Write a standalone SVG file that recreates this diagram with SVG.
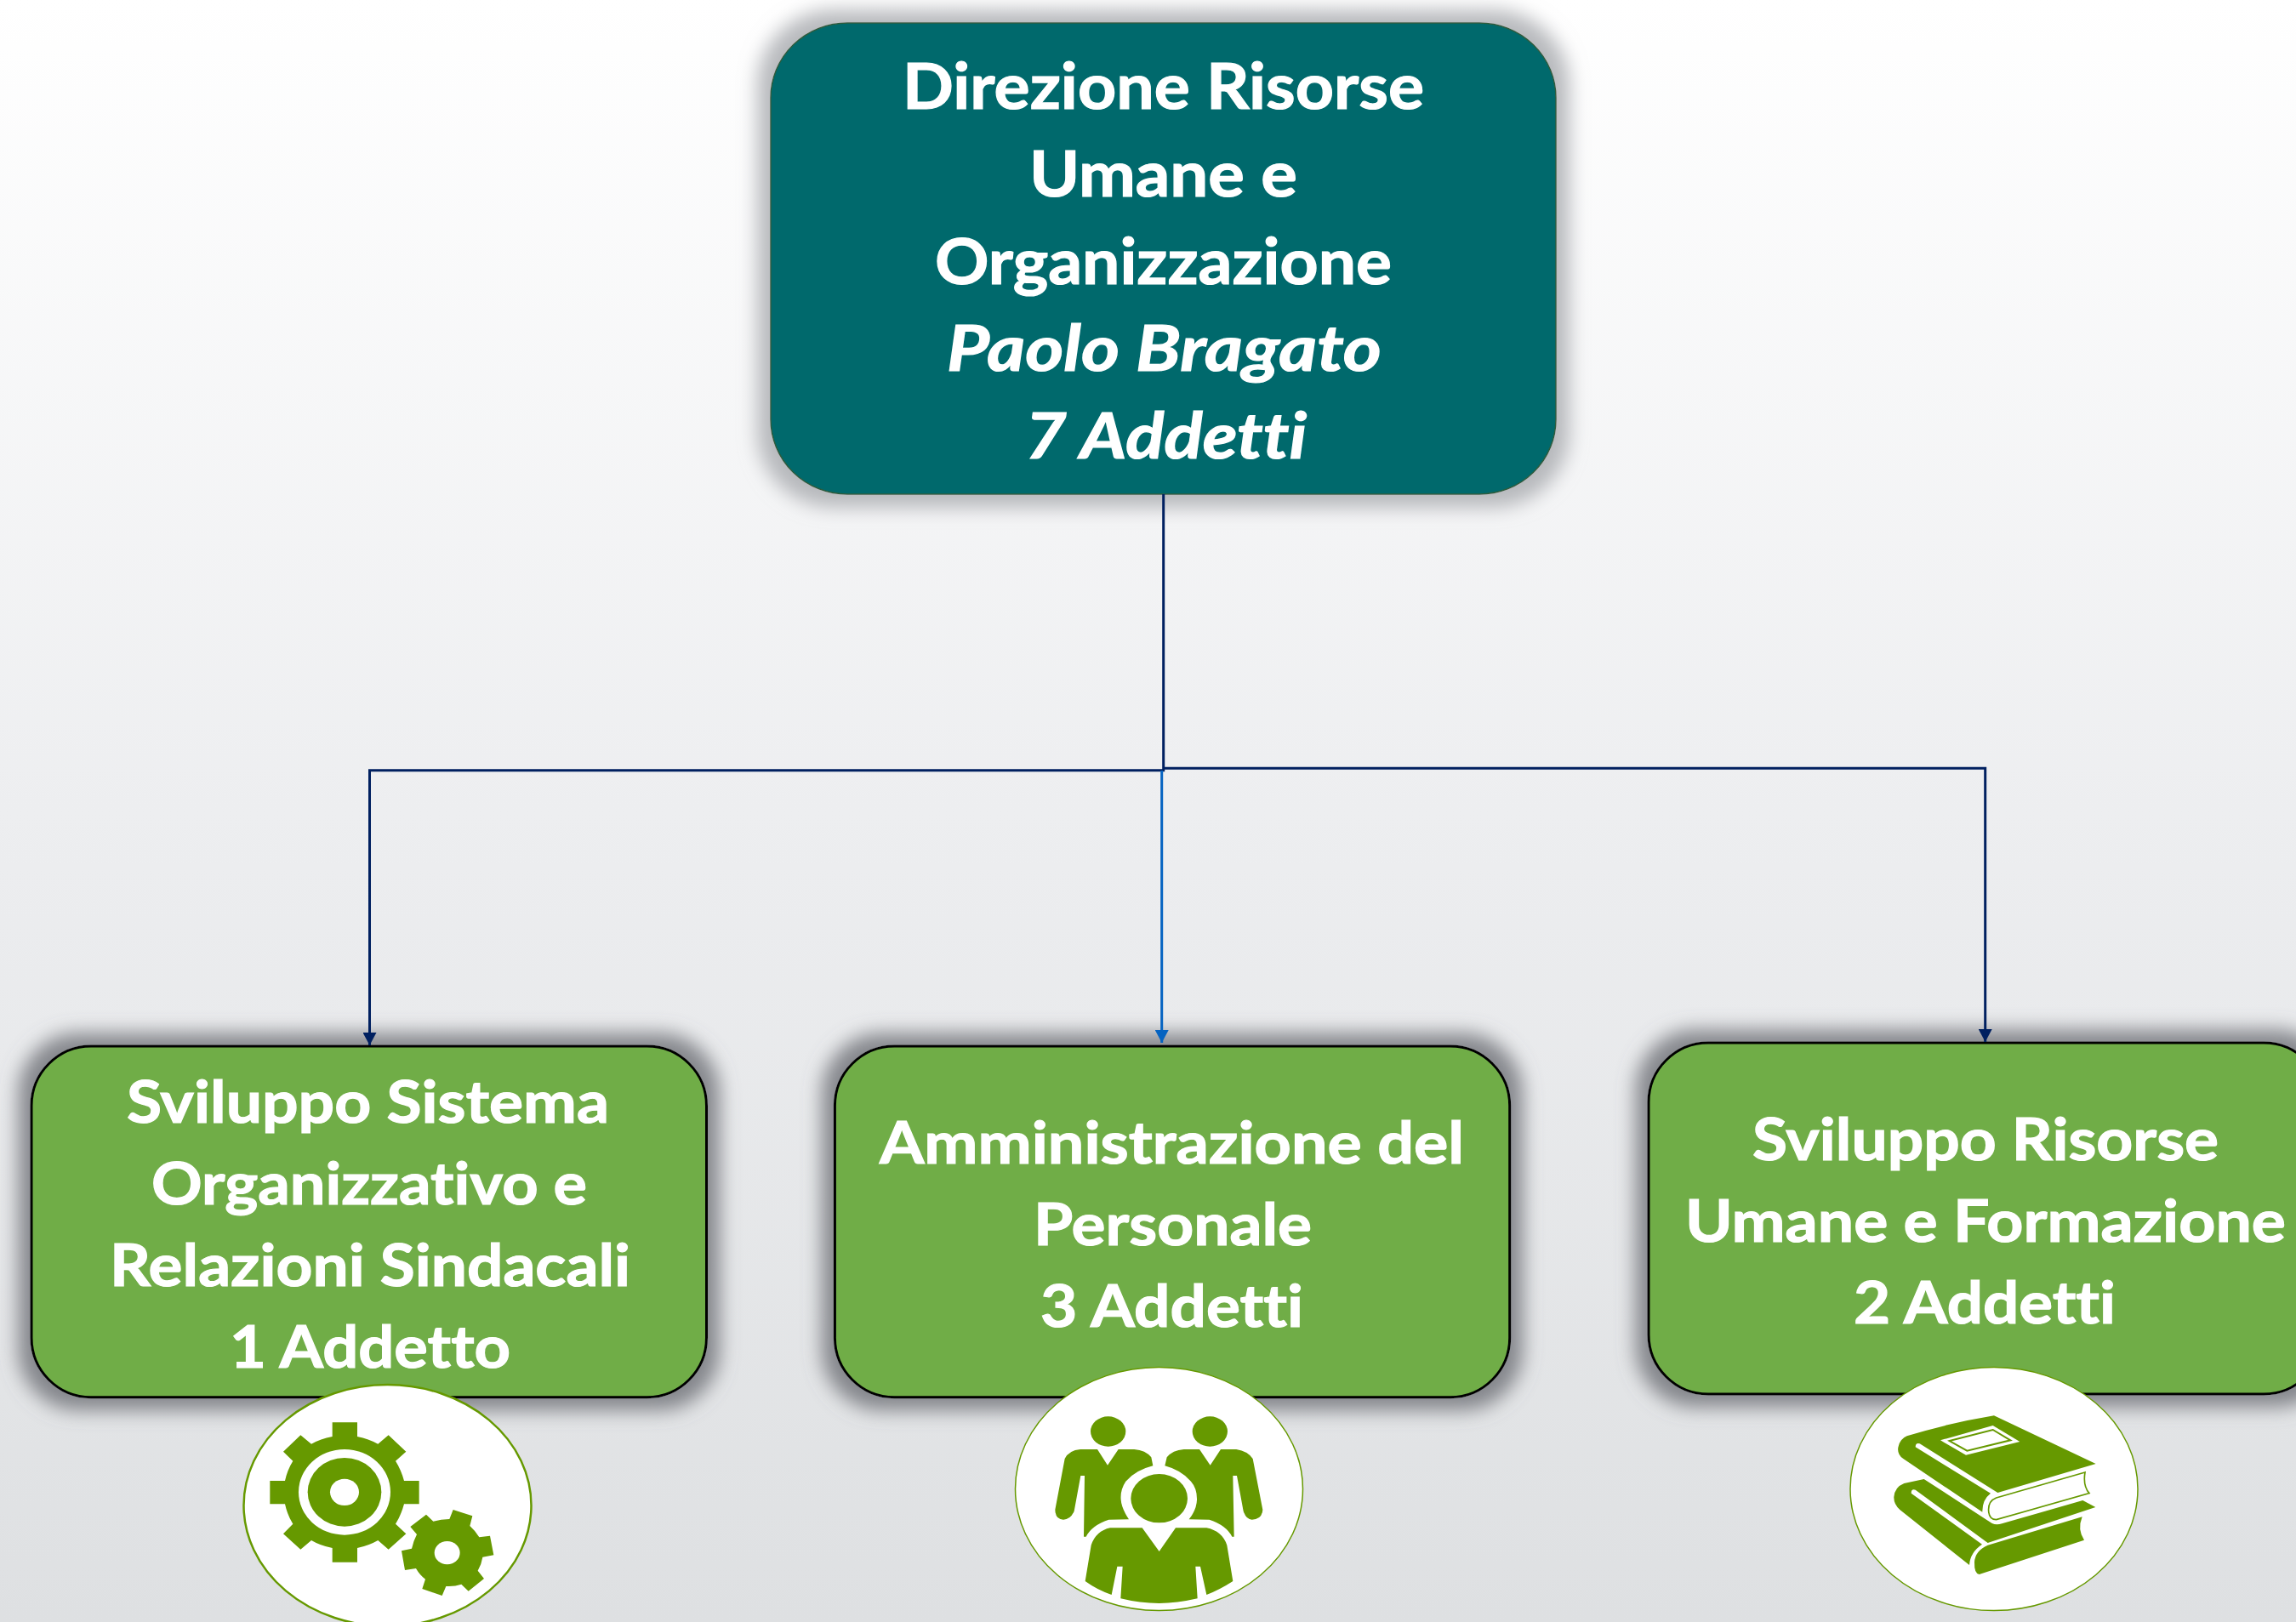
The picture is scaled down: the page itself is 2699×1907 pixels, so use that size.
<svg xmlns="http://www.w3.org/2000/svg" width="2699" height="1907" viewBox="0 0 2699 1907">
<style>
.t{font-family:"Lato","Liberation Sans",sans-serif;font-weight:700;fill:#fff;stroke:#fff;stroke-width:1.2;font-size:69px;font-variant-ligatures:none}
.h{font-size:75px}
.i{font-style:italic}
.box{fill:#70ad47;stroke:#000;stroke-width:3}
.ic{fill:#669900}
.w{fill:#fff}
.c{fill:#fff;stroke:#669900;stroke-width:1.5}
.navy{fill:none;stroke:#002060;stroke-width:3}
.blue{fill:none;stroke:#0563c1;stroke-width:3}
</style>
<defs>
<linearGradient id="bg" x1="0" y1="0" x2="0" y2="1">
<stop offset="0" stop-color="#ffffff"/><stop offset="0.5" stop-color="#edeef0"/><stop offset="1" stop-color="#dee0e2"/>
</linearGradient>
<filter id="sh" x="-10%" y="-15%" width="120%" height="130%">
<feMorphology in="SourceAlpha" operator="dilate" radius="14" result="d"/>
<feGaussianBlur in="d" stdDeviation="11" result="b"/>
<feFlood flood-color="#74767c" flood-opacity="0.85"/>
<feComposite in2="b" operator="in" result="s"/>
<feMerge><feMergeNode in="s"/><feMergeNode in="SourceGraphic"/></feMerge>
</filter>
<filter id="sh2" x="-10%" y="-15%" width="120%" height="130%">
<feMorphology in="SourceAlpha" operator="dilate" radius="15" result="d"/>
<feGaussianBlur in="d" stdDeviation="11" result="b"/>
<feFlood flood-color="#b0b2b6" flood-opacity="0.9"/>
<feComposite in2="b" operator="in" result="s"/>
<feMerge><feMergeNode in="s"/><feMergeNode in="SourceGraphic"/></feMerge>
</filter>
<marker id="an" markerUnits="userSpaceOnUse" markerWidth="16" markerHeight="16" refX="15" refY="8" orient="auto"><path d="M0,0 L15,8 L0,16 Z" fill="#002060"/></marker>
<marker id="ab" markerUnits="userSpaceOnUse" markerWidth="16" markerHeight="16" refX="15" refY="8" orient="auto"><path d="M0,0 L15,8 L0,16 Z" fill="#0563c1"/></marker>
</defs>
<rect width="2699" height="1907" fill="url(#bg)"/>

<g id="node-direzione">
<rect x="906" y="27" width="923" height="554" rx="90" ry="88" fill="#00696c" stroke="#2f5d3c" stroke-width="1.5" filter="url(#sh2)"/>
<text class="t h" x="1061" y="128" textLength="613" lengthAdjust="spacingAndGlyphs">Direzione Risorse</text>
<text class="t h" x="1210" y="231" textLength="315" lengthAdjust="spacingAndGlyphs">Umane e</text>
<text class="t h" x="1099" y="334" textLength="537" lengthAdjust="spacingAndGlyphs">Organizzazione</text>
<text class="t h i" x="1113" y="436" textLength="511" lengthAdjust="spacingAndGlyphs">Paolo Bragato</text>
<text class="t h i" x="1205" y="538.500" textLength="331" lengthAdjust="spacingAndGlyphs">7 Addetti</text>
</g>

<g id="node-sviluppo-sistema">
<rect class="box" x="37" y="1230" width="793.500" height="412.700" rx="70" ry="70" filter="url(#sh)"/>
<text class="t" x="149" y="1320" textLength="567" lengthAdjust="spacingAndGlyphs">Sviluppo Sistema</text>
<text class="t" x="178" y="1416" textLength="512" lengthAdjust="spacingAndGlyphs">Organizzativo e</text>
<text class="t" x="129" y="1512" textLength="612" lengthAdjust="spacingAndGlyphs">Relazioni Sindacali</text>
<text class="t" x="270" y="1607.500" textLength="330" lengthAdjust="spacingAndGlyphs">1 Addetto</text>
</g>

<g id="node-amministrazione">
<rect class="box" x="981.400" y="1230" width="793.300" height="412.700" rx="70" ry="70" filter="url(#sh)"/>
<text class="t" x="1034" y="1367.500" textLength="687" lengthAdjust="spacingAndGlyphs">Amministrazione del</text>
<text class="t" x="1215" y="1464" textLength="327" lengthAdjust="spacingAndGlyphs">Personale</text>
<text class="t" x="1223" y="1559.500" textLength="309" lengthAdjust="spacingAndGlyphs">3 Addetti</text>
</g>

<g id="node-sviluppo-risorse">
<rect class="box" x="1938" y="1226" width="793" height="413" rx="70" ry="70" filter="url(#sh)"/>
<text class="t" x="2060" y="1364" textLength="548" lengthAdjust="spacingAndGlyphs">Sviluppo Risorse</text>
<text class="t" x="1981" y="1460" textLength="706" lengthAdjust="spacingAndGlyphs">Umane e Formazione</text>
<text class="t" x="2179" y="1556" textLength="308" lengthAdjust="spacingAndGlyphs">2 Addetti</text>
</g>

<g id="connectors">
<path class="navy" d="M1367.700,581 V905.700 H434.500 V1229" marker-end="url(#an)"/>
<path class="navy" d="M1367.700,903.300 H2333.700 V1225" marker-end="url(#an)"/>
<path class="blue" d="M1365.700,906 V1226" marker-end="url(#ab)"/>
</g>

<g id="icon-gears">
<ellipse class="c" style="stroke-width:2.500" cx="455.500" cy="1770" rx="169" ry="142"/>
<g transform="translate(260,1600) scale(0.33333)">
<path class="ic" d="M392,217 L480,217 L480,267 Q520,275 553,293 L590,262 L652,320 L615,353 Q635,385 645,423 L698,423 L698,505 L645,505 Q635,543 615,575 L652,610 L590,665 L553,633 Q520,652 480,660 L480,710 L392,710 L392,660 Q350,652 318,633 L280,665 L219,610 L253,575 Q233,543 225,505 L172,505 L172,423 L225,423 Q233,385 253,353 L219,320 L280,262 L318,293 Q350,275 392,267 Z"/>
<ellipse class="w" cx="435" cy="463" rx="162" ry="151"/>
<ellipse class="ic" cx="435" cy="463" rx="130" ry="121"/>
<ellipse class="w" cx="435" cy="463" rx="51" ry="47"/>
<path class="ic" d="M818,525 L886,547 L877,582 Q897,600 910,622 L948,617 L961,685 L922,692 Q918,718 905,740 L927,768 L872,812 L847,788 Q822,797 793,795 L779,828 L709,804 L720,770 Q700,755 687,732 L648,738 L636,670 L672,662 Q678,635 690,612 L667,585 L723,542 L748,566 Q775,558 805,558 Z"/>
<ellipse class="w" cx="797" cy="677" rx="45" ry="41"/>
</g>
</g>

<g id="icon-people">
<ellipse class="c" cx="1362.500" cy="1750.600" rx="169" ry="143"/>
<g transform="translate(1170,1590) scale(0.33333)">
<ellipse class="ic" cx="398" cy="279" rx="62" ry="53"/>
<ellipse class="ic" cx="757" cy="279" rx="62" ry="53"/>
<path class="ic" d="M360,342 L396,398 L434,342 L490,342 Q530,345 550,370 L556,400 Q495,415 460,455 Q440,485 443,520 Q445,550 471,589 L400,590 Q340,610 320,650 L312,650 L315,435 L301,435 L278,560 Q265,590 240,590 Q212,590 211,555 L245,375 Q260,345 300,342 Z"/>
<path class="ic" d="M720,342 L758,398 L795,342 L850,342 Q890,348 908,375 L943,555 Q940,590 905,590 Q885,590 875,560 L852,435 L838,435 L842,650 L835,650 Q815,610 755,590 L683,589 Q710,555 711,520 Q712,480 690,455 Q655,415 598,400 L605,370 Q625,345 665,342 Z"/>
<ellipse class="ic" cx="578" cy="515" rx="100" ry="86"/>
<path class="ic" d="M518,619 L578,702 L636,619 L745,619 Q800,630 817,680 L838,807 Q790,838 745,855 L723,755 L706,755 L713,868 Q640,885 578,885 Q510,885 442,868 L449,755 L430,755 L410,855 Q360,838 317,807 L338,680 Q355,630 405,619 Z"/>
</g>
</g>

<g id="icon-books">
<ellipse class="c" cx="2344" cy="1750.600" rx="169" ry="143"/>
<g transform="translate(2150,1590) scale(0.33333)">
<path class="ic" d="M582,223 L941,393 L595,495 L320,322 Q305,318 305,334 L570,497 Q540,520 541,563 L262,375 Q240,360 244,335 Q250,305 275,295 Q420,250 582,223 Z"/>
<path class="w" d="M393,310 L578,258 L673,315 L483,362 Z"/>
<path class="w" d="M425,312 L578,273 L640,310 L487,347 Z" stroke="#669900" stroke-width="6"/>
<path class="w" d="M903,423 L590,513 Q560,525 563,560 Q565,590 590,590 L918,497 Q895,470 903,423 Z" stroke="#669900" stroke-width="5"/>
<path class="ic" d="M335,447 L575,603 Q590,610 610,604 L895,522 L940,546 L560,672 L305,485 Q290,480 290,497 L540,677 Q498,705 495,750 L250,555 Q228,535 229,510 Q232,475 265,462 Z"/>
<path class="ic" d="M893,580 Q875,625 900,662 L530,783 Q512,780 513,740 Q515,700 560,680 Z"/>
</g>
</g>
</svg>
